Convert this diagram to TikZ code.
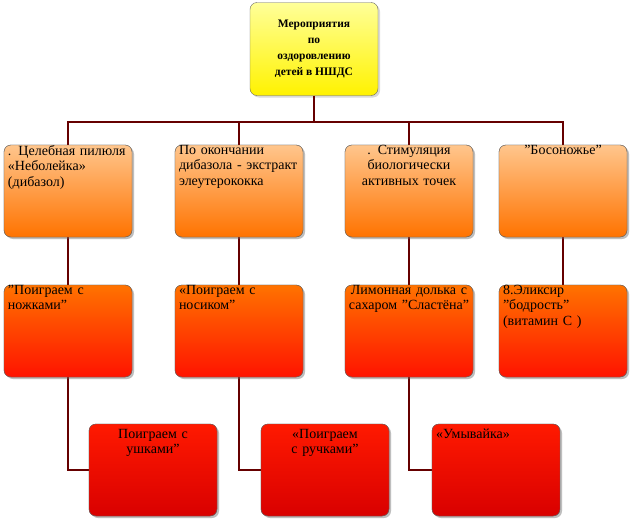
\documentclass[tikz,border=0pt]{standalone}
\usepackage{fontspec}
\setmainfont{Liberation Serif}
\usetikzlibrary{shadows}
\begin{document}
\begin{tikzpicture}[x=1pt,y=-1pt,
 box/.style={draw=black!60,rounded corners=7pt,minimum width=128pt,minimum height=92pt,inner sep=0pt,drop shadow={shadow xshift=2pt,shadow yshift=-2pt,opacity=0.3}},
 r1/.style={box,top color=orange!45,bottom color=orange!90!red},
 r2/.style={box,top color=orange!90!red,bottom color=red!85!orange},
 r3/.style={box,top color=red!80!orange,bottom color=red!85!black},
 txt/.style={font=\fontsize{14}{15.5}\selectfont,inner sep=2pt,text width=124pt},
 ln/.style={draw=red!40!black,line width=2.2pt}]
\useasboundingbox (0,0) rectangle (630,522);
\node[box,minimum height=93pt,top color=yellow!40,bottom color=yellow!90!orange] (top) at (314,49) {};
\node[font=\bfseries\fontsize{11.5}{16}\selectfont,align=center] at (top) {Мероприятия\\по\\оздоровлению\\детей в  НШДС};
% row 1
\node[r1] (a1) at (68,191) {};
\node[r1] (b1) at (239,191) {};
\node[r1] (c1) at (409,191) {};
\node[r1] (d1) at (563,191) {};
% row 2
\node[r2] (a2) at (68,331) {};
\node[r2] (b2) at (239,331) {};
\node[r2] (c2) at (409,331) {};
\node[r2] (d2) at (563,331) {};
% row 3
\node[r3] (a3) at (153,470) {};
\node[r3] (b3) at (325,470) {};
\node[r3] (c3) at (496,470) {};
\begin{scope}[on background layer/.style={}]
\end{scope}
% connectors
\coordinate (h) at (314,122);
\draw[ln] (top.south) -- (h);
\draw[ln] (a1.north) |- (h) -| (d1.north);
\draw[ln] (b1.north) -- (b1.north |- h);
\draw[ln] (c1.north) -- (c1.north |- h);
\draw[ln] (a1) -- (a2); \draw[ln] (b1) -- (b2); \draw[ln] (c1) -- (c2); \draw[ln] (d1) -- (d2);
\draw[ln] (a2.south) |- (a3.west);
\draw[ln] (b2.south) |- (b3.west);
\draw[ln] (c2.south) |- (c3.west);
% redraw boxes over lines
\node[r1] at (a1) {}; \node[r1] at (b1) {}; \node[r1] at (c1) {}; \node[r1] at (d1) {};
\node[r2] at (a2) {}; \node[r2] at (b2) {}; \node[r2] at (c2) {}; \node[r2] at (d2) {};
\node[r3] at (a3) {}; \node[r3] at (b3) {}; \node[r3] at (c3) {};
% texts
\node[txt,anchor=north west,align=left] at ([xshift=2pt,yshift=2pt]a1.north west) {. Целебная пилюля «Неболейка» (дибазол)};
\node[txt,anchor=north west,align=left] at ([xshift=2pt,yshift=2pt]b1.north west) {По окончании дибазола - экстракт элеутерококка};
\node[txt,anchor=north,align=center] at ([yshift=2pt]c1.north) {. Стимуляция биологически активных точек};
\node[txt,anchor=north,align=center] at ([yshift=2pt]d1.north) {"Босоножье"};
\node[txt,anchor=north west,align=left] at ([xshift=2pt,yshift=2pt]a2.north west) {"Поиграем с ножками"};
\node[txt,anchor=north west,align=left] at ([xshift=2pt,yshift=2pt]b2.north west) {«Поиграем с носиком"};
\node[txt,anchor=north,align=center] at ([yshift=2pt]c2.north) {Лимонная долька с сахаром "Сластёна"};
\node[txt,anchor=north west,align=left] at ([xshift=2pt,yshift=2pt]d2.north west) {8.Эликсир "бодрость" (витамин С )};
\node[txt,anchor=north,align=center] at ([yshift=-3pt]a3.north) {Поиграем с ушками"};
\node[txt,anchor=north,align=center] at ([yshift=-3pt]b3.north) {«Поиграем с ручками"};
\node[txt,anchor=north west,align=left] at ([xshift=2pt,yshift=-3pt]c3.north west) {«Умывайка»};
\end{tikzpicture}
\end{document}
